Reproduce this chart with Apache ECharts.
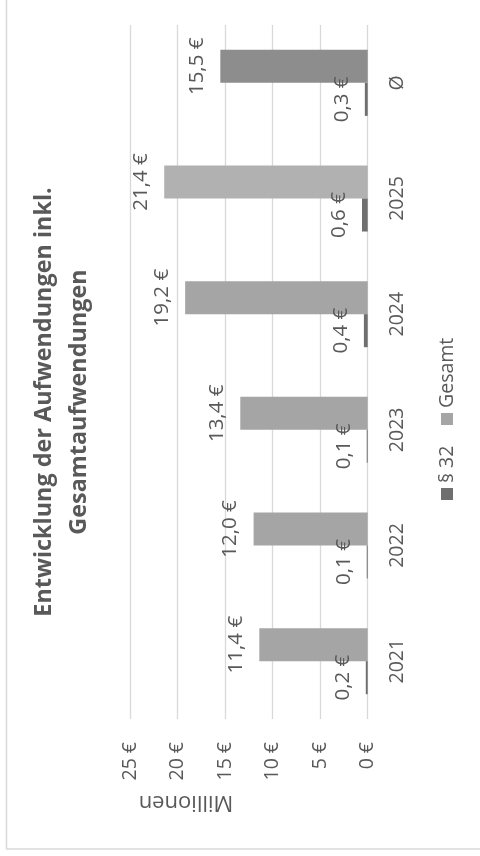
<!DOCTYPE html>
<html>
<head>
<meta charset="utf-8">
<script src="https://cdn.jsdelivr.net/npm/echarts@6/dist/echarts.min.js"></script>
<style>
html,body{margin:0;padding:0;background:#fff;}
#chart{width:480px;height:856px;}
</style>
</head>
<body>
<div id="chart"></div>
<script>
// Data
var categories = ['2021', '2022', '2023', '2024', '2025', 'Ø'];
var seriesNames = ['§ 32', 'Gesamt'];
var para32 = [0.2, 0.1, 0.1, 0.4, 0.6, 0.3];
var gesamt = [11.4, 12.0, 13.4, 19.2, 21.4, 15.5];
var gesamtColors = ['#a5a5a5', '#a5a5a5', '#a5a5a5', '#a5a5a5', '#b1b1b1', '#8d8d8d'];
var titleLines = ['Entwicklung der Aufwendungen inkl.', 'Gesamtaufwendungen'];
var unitName = 'Millionen';

var FONT = 'Open Sans';
var TXT = '#595959';

function fmt(v) { return v.toFixed(1).replace('.', ',') + ' €'; }

var chart = echarts.init(document.getElementById('chart'), null, {renderer: 'canvas'});

var labelCfg = {
  show: true,
  position: 'left',
  distance: 23,
  rotate: 90,
  align: 'center',
  verticalAlign: 'middle',
  color: TXT,
  fontFamily: FONT,
  fontSize: 20.5,
  formatter: function (p) { return fmt(p.value); }
};

var option = {
  animation: false,
  backgroundColor: '#fff',
  grid: {left: 130, right: 112.3, top: 25, bottom: 137, containLabel: false},
  xAxis: {
    type: 'value',
    inverse: true,
    position: 'bottom',
    min: 0, max: 25, interval: 5,
    axisLine: {show: false},
    axisTick: {show: false},
    splitLine: {show: true, lineStyle: {color: '#d9d9d9', width: 1.3}},
    axisLabel: {
      rotate: 90, margin: 23, color: TXT, fontFamily: FONT, fontSize: 19.5,
      formatter: function (v) { return v + ' €'; }
    }
  },
  yAxis: {
    type: 'category',
    position: 'right',
    data: categories,
    axisLine: {show: false},
    axisTick: {show: false},
    splitLine: {show: false},
    axisLabel: {rotate: 90, margin: 20, color: TXT, fontFamily: FONT, fontSize: 19.5}
  },
  series: [
    {
      name: seriesNames[1], type: 'bar',
      data: gesamt.map(function (v, i) { return {value: v, itemStyle: {color: gesamtColors[i]}}; }),
      barGap: '0%', barCategoryGap: '42.9%',
      label: labelCfg
    },
    {
      name: seriesNames[0], type: 'bar',
      data: para32,
      itemStyle: {color: '#6f6f6f'},
      barGap: '0%', barCategoryGap: '42.9%',
      label: labelCfg
    }
  ],
  graphic: [
    {type: 'rect', shape: {x: 6.5, y: -10, width: 520, height: 859}, style: {fill: 'none', stroke: '#d9d9d9', lineWidth: 1.5}, silent: true},
    {type: 'text', x: 62, y: 402, rotation: Math.PI / 2,
      style: {text: titleLines.join('\n'), fill: TXT, font: 'bold 23.4px "' + FONT + '"', textAlign: 'center', textVerticalAlign: 'middle', lineHeight: 35}},
    {type: 'text', x: 186, y: 802, rotation: Math.PI,
      style: {text: unitName, fill: TXT, font: '22px "' + FONT + '"', textAlign: 'center', textVerticalAlign: 'middle'}},
    {type: 'rect', shape: {x: 441, y: 488, width: 12, height: 12}, style: {fill: '#6f6f6f'}},
    {type: 'text', x: 447, y: 483, rotation: Math.PI / 2,
      style: {text: seriesNames[0], fill: TXT, font: '19.5px "' + FONT + '"', textAlign: 'left', textVerticalAlign: 'middle'}},
    {type: 'rect', shape: {x: 441, y: 413, width: 12, height: 12}, style: {fill: '#a5a5a5'}},
    {type: 'text', x: 447, y: 408, rotation: Math.PI / 2,
      style: {text: seriesNames[1], fill: TXT, font: '19.5px "' + FONT + '"', textAlign: 'left', textVerticalAlign: 'middle'}}
  ]
};
chart.setOption(option);
</script>
</body>
</html>
